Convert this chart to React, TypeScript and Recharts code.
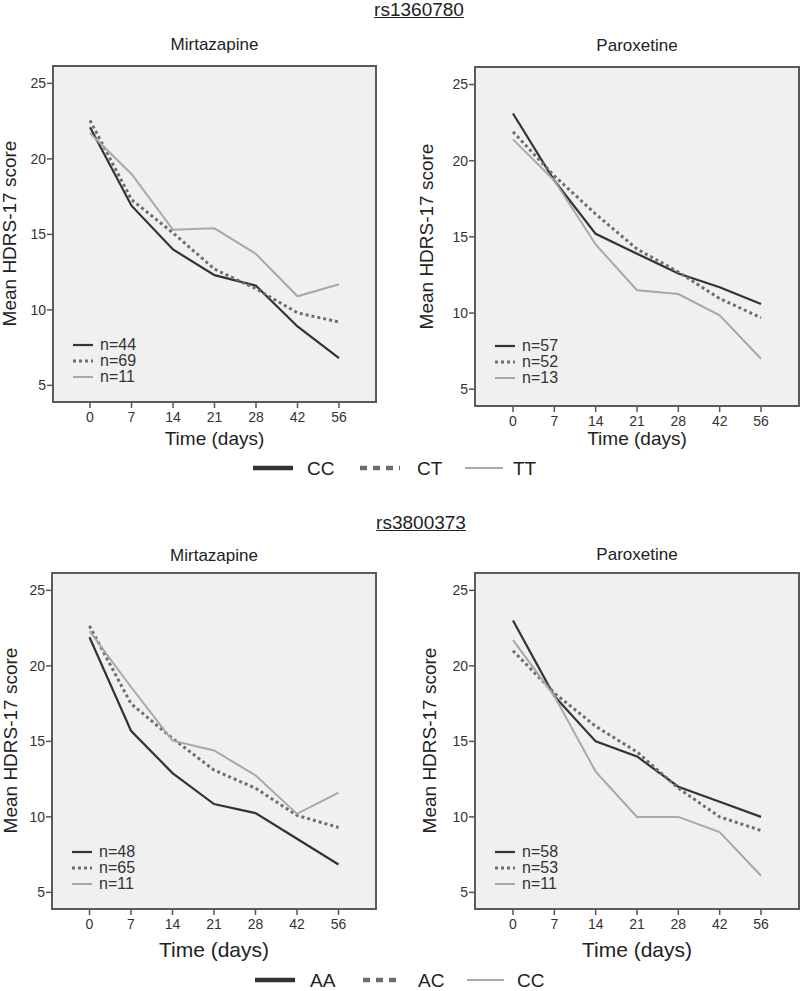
import { LineChart, Line, XAxis, YAxis, CartesianGrid } from 'recharts'

const FONT = '"Liberation Sans", Arial, Helvetica, sans-serif'

const days = ['0', '7', '14', '21', '28', '42', '56']
const yTicks = [5, 10, 15, 20, 25]

// rs1360780
const mirCC = [22.1, 16.9, 14.0, 12.3, 11.6, 8.9, 6.8]
const mirCT = [22.55, 17.3, 15.1, 12.7, 11.4, 9.8, 9.2]
const mirTT = [21.7, 19.0, 15.3, 15.4, 13.7, 10.9, 11.7]
const parCC = [23.1, 18.7, 15.2, 13.9, 12.6, 11.7, 10.6]
const parCT = [21.9, 19.0, 16.5, 14.2, 12.7, 10.95, 9.7]
const parTT = [21.4, 18.7, 14.5, 11.5, 11.25, 9.85, 7.0]
const nMir1 = ['n=44', 'n=69', 'n=11']
const nPar1 = ['n=57', 'n=52', 'n=13']
const geno1 = ['CC', 'CT', 'TT']

// rs3800373
const mirAA = [21.9, 15.7, 12.9, 10.85, 10.25, 8.55, 6.85]
const mirAC = [22.65, 17.5, 15.2, 13.1, 11.9, 10.1, 9.3]
const mirCC2 = [22.3, 18.6, 15.05, 14.4, 12.75, 10.2, 11.6]
const parAA = [23, 18, 15, 14, 12, 11, 10]
const parAC = [21, 18.2, 16, 14.3, 11.9, 10, 9.1]
const parCC2 = [21.7, 18, 13, 10, 10, 9, 6.1]
const nMir2 = ['n=48', 'n=65', 'n=11']
const nPar2 = ['n=58', 'n=53', 'n=11']
const geno2 = ['AA', 'AC', 'CC']

const lineStyles = [
  { stroke: '#333', strokeWidth: 2.2 },
  { stroke: '#6e6e6e', strokeWidth: 3, strokeDasharray: '3 3' },
  { stroke: '#a8a8a8', strokeWidth: 2 },
]
const keys = ['g0', 'g1', 'g2']

type Box = { x: number; y: number; w: number; h: number }

function Txt({ x, y, size, children, center = false, style = {} }: any) {
  return (
    <div
      style={{
        position: 'absolute',
        left: x,
        top: y - size * 0.49,
        fontSize: size,
        lineHeight: `${size}px`,
        whiteSpace: 'nowrap',
        color: '#222',
        transform: center ? 'translateX(-50%)' : undefined,
        ...style,
      }}
    >
      {children}
    </div>
  )
}

function Swatch({ i, w, thick = false }: { i: number; w: number; thick?: boolean }) {
  const s = lineStyles[i]
  const sw = thick ? (i === 2 ? 2 : 4.5) : s.strokeWidth
  const dash = thick && i === 1 ? '7 6' : s.strokeDasharray
  return (
    <svg width={w} height={8} style={{ display: 'block' }}>
      <line x1={0} x2={w} y1={4} y2={4} stroke={s.stroke} strokeWidth={sw} strokeDasharray={dash} />
    </svg>
  )
}

function Panel({ box, title, titleY, lines, counts, xLabelY, xLabelSize, yLabelX, pad }: {
  box: Box; title: string; titleY: number; lines: number[][]; counts: string[]
  xLabelY: number; xLabelSize: number; yLabelX: number; pad: number
}) {
  const data = days.map((d, i) => ({ day: d, g0: lines[0][i], g1: lines[1][i], g2: lines[2][i] }))
  const aw = 50, ah = 30, mt = 10, mr = 1
  const tickStyle = { fontSize: 14, fill: '#333', fontFamily: FONT }
  return (
    <>
      <Txt x={box.x + box.w / 2} y={titleY} size={17} center>{title}</Txt>
      <div style={{ position: 'absolute', left: box.x - aw, top: box.y - mt }}>
        <LineChart
          width={box.w + aw + mr}
          height={box.h + mt + ah}
          data={data}
          margin={{ top: mt, right: mr, bottom: 0, left: 0 }}
          style={{ fontFamily: FONT }}
        >
          <CartesianGrid horizontal={false} vertical={false} fill="#f0f0f0" />
          <XAxis
            dataKey="day"
            height={ah}
            interval={0}
            padding={{ left: pad, right: pad }}
            axisLine={false}
            tickLine={{ stroke: '#555', strokeWidth: 1.5 }}
            tickSize={6}
            tickMargin={4}
            tick={tickStyle}
          />
          <YAxis
            type="number"
            domain={[3.9, 26.15]}
            ticks={yTicks}
            allowDataOverflow
            width={aw}
            axisLine={false}
            tickLine={{ stroke: '#555', strokeWidth: 1.5 }}
            tickSize={6}
            tickMargin={1}
            tick={tickStyle}
          />
          {keys.map((k, i) => (
            <Line key={k} dataKey={k} type="linear" dot={false} activeDot={false} isAnimationActive={false} {...lineStyles[i]} />
          ))}
        </LineChart>
      </div>
      <div
        style={{
          position: 'absolute', left: box.x - 1, top: box.y - 1, width: box.w + 2, height: box.h + 2,
          border: '2px solid #5a5a5a', boxSizing: 'border-box', pointerEvents: 'none',
        }}
      />
      {counts.map((c, i) => (
        <div key={c + i}>
          <div style={{ position: 'absolute', left: box.x + 20, top: box.y + 279 + i * 16 - 4 }}>
            <Swatch i={i} w={20} />
          </div>
          <Txt x={box.x + 47} y={box.y + 279 + i * 16} size={16} style={{ color: '#333' }}>{c}</Txt>
        </div>
      ))}
      <Txt x={box.x + box.w / 2} y={xLabelY} size={xLabelSize} center>Time (days)</Txt>
      <div
        style={{
          position: 'absolute', left: yLabelX, top: box.y + box.h / 2 - 10, fontSize: 19, lineHeight: '19px',
          whiteSpace: 'nowrap', color: '#222', transform: 'translateX(-50%) rotate(-90deg)',
        }}
      >
        Mean HDRS-17 score
      </div>
    </>
  )
}

function GenoLegend({ y, labels, xs }: { y: number; labels: string[]; xs: number[][] }) {
  return (
    <>
      {labels.map((g, i) => (
        <div key={g + i}>
          <div style={{ position: 'absolute', left: xs[i][0], top: y - 4 }}>
            <Swatch i={i} w={xs[i][1] - xs[i][0]} thick />
          </div>
          <Txt x={xs[i][2]} y={y} size={19}>{g}</Txt>
        </div>
      ))}
    </>
  )
}

export default function App() {
  return (
    <div
      style={{
        position: 'absolute', left: 0, top: 0, width: 800, height: 991, overflow: 'hidden',
        background: '#fff', fontFamily: FONT,
      }}
    >
      <Txt x={419} y={9} size={19} center style={{ textDecoration: 'underline' }}>rs1360780</Txt>
      <Panel box={{ x: 53, y: 66, w: 323, h: 336 }} title="Mirtazapine" titleY={44} lines={[mirCC, mirCT, mirTT]}
        counts={nMir1} xLabelY={438} xLabelSize={19} yLabelX={9} pad={37} />
      <Panel box={{ x: 475, y: 67, w: 324, h: 339 }} title="Paroxetine" titleY={45} lines={[parCC, parCT, parTT]}
        counts={nPar1} xLabelY={438} xLabelSize={19} yLabelX={426} pad={38} />
      <GenoLegend y={468} labels={geno1} xs={[[253, 293, 307], [360, 400, 417], [465, 503, 513]]} />

      <Txt x={421} y={522} size={19} center style={{ textDecoration: 'underline' }}>rs3800373</Txt>
      <Panel box={{ x: 52, y: 573, w: 324, h: 336 }} title="Mirtazapine" titleY={555} lines={[mirAA, mirAC, mirCC2]}
        counts={nMir2} xLabelY={949} xLabelSize={21} yLabelX={10} pad={37.5} />
      <Panel box={{ x: 475, y: 573, w: 324, h: 336 }} title="Paroxetine" titleY={554} lines={[parAA, parAC, parCC2]}
        counts={nPar2} xLabelY={949} xLabelSize={21} yLabelX={429} pad={38} />
      <GenoLegend y={980} labels={geno2} xs={[[255, 295, 310], [363, 400, 418], [467, 504, 517]]} />
    </div>
  )
}
